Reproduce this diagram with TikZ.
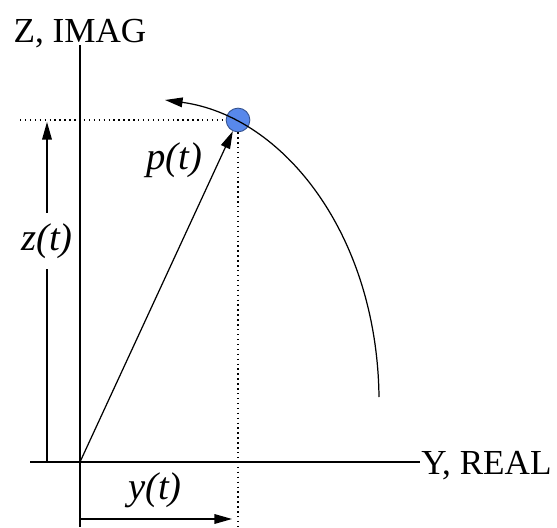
\documentclass[tikz,border=0pt]{standalone}
\usepackage{fontspec}
\setmainfont{Liberation Serif}
\usetikzlibrary{arrows.meta}
\definecolor{ptblue}{RGB}{88,136,235}
\tikzset{
  axis/.style={line width=0.7pt},
  vec/.style={line width=0.7pt, -{Triangle[length=10pt,width=5.5pt]}},
  proj/.style={line width=0.8pt, dotted},
  axlabel/.style={font=\fontsize{20}{24}\selectfont, inner sep=0pt},
  varlabel/.style={font=\fontsize{22}{26}\selectfont\itshape, inner sep=1pt}
}
\begin{document}
\begin{tikzpicture}[x=0.02cm, y=-0.02cm]
  \useasboundingbox (0,0) rectangle (557,527);
  \coordinate (O) at (80,462);
  \coordinate (ztop) at (80,45);
  \coordinate (zbot) at (80,527);
  \coordinate (yleft) at (30,462);
  \coordinate (yright) at (420,462);
  \node[axlabel, anchor=base] (zname) at (80,43) {Z, IMAG};
  \node[axlabel, anchor=base west] (yname) at (421,474) {Y, REAL};
  \draw[axis] (ztop) -- (zbot);
  \draw[axis] (yleft) -- (yright);
  \node[circle, fill=ptblue, draw=ptblue!60!black, line width=0.5pt,
        minimum size=13.5pt, inner sep=0pt] (P) at (238,120) {};
  \coordinate (zend) at (20,120);
  \coordinate (yend) at (238,527);
  \draw[proj] (zend) -- (P);
  \draw[proj] (P) -- (yend);
  \draw[vec] (O) -- (P);
  \node[varlabel] (plab) at (174,160) {p(t)};
  \coordinate (zs) at (47,462);
  \coordinate (zt) at (47,122);
  \draw[vec] (zs) -- node[pos=0.65, varlabel, fill=white, inner ysep=6pt] (zlab) {z(t)} (zt);
  \coordinate (ys) at (80,519);
  \coordinate (yt) at (232,519);
  \draw[vec] (ys) -- (yt);
  \node[varlabel] (ylab) at (155,490) {y(t)};
  \coordinate (arcs) at (379,397);
  \coordinate (arct) at (165,100);
  \draw[vec] (arcs) .. controls (377,234) and (283,116) .. (arct);
\end{tikzpicture}
\end{document}
